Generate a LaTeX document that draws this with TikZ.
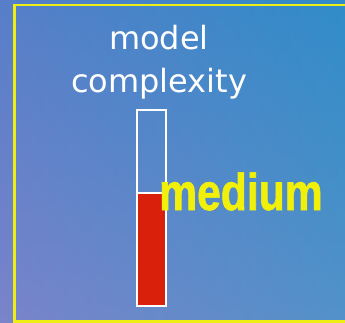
\documentclass[tikz,border=0pt]{standalone}
\usepackage{fontspec}
\setmainfont{DejaVu Sans}
\newfontfamily\impactish[FakeStretch=0.82,FakeBold=1.2]{Liberation Sans Bold}
\definecolor{bgtop}{RGB}{52,122,200}
\definecolor{bgleft}{RGB}{122,132,202}
\definecolor{bgright}{RGB}{44,160,200}
\definecolor{borderyellow}{RGB}{238,238,20}
\definecolor{barred}{RGB}{216,32,10}
\definecolor{medyellow}{RGB}{240,240,10}
\tikzset{
  titletext/.style={text=white,font=\fontsize{32}{43}\selectfont,align=center,inner sep=0pt},
  leveltext/.style={text=medyellow,font=\impactish\fontsize{52}{52}\selectfont,inner sep=0pt,anchor=base west},
  barframe/.style={draw=white,line width=2pt},
}
\begin{document}
\begin{tikzpicture}[x=1pt,y=-1pt]
\useasboundingbox (0,0) rectangle (345,322);
\begin{scope}
\clip (0,0) rectangle (345,322);
\shade[left color=bgleft,right color=bgright] (0,0) rectangle (345,322);
\shade[top color=bgtop,bottom color=bgleft,opacity=0.5] (0,0) rectangle (345,322);
\draw[borderyellow,line width=2.2pt] (14.5,5) rectangle (352,321.5);
\end{scope}
\node[titletext] (title) at (159,62) {model\\complexity};
\coordinate (bartl) at (136.5,109.5);
\coordinate (barbr) at (165.5,305.5);
\coordinate (redtop) at (136.5,192.5);
\fill[barred] (redtop) rectangle (barbr);
\draw[barframe] (bartl) rectangle (barbr);
\draw[barframe] (redtop) -- (redtop -| barbr);
\node[leveltext] (level) at (159,210) {medium};
\end{tikzpicture}
\end{document}
